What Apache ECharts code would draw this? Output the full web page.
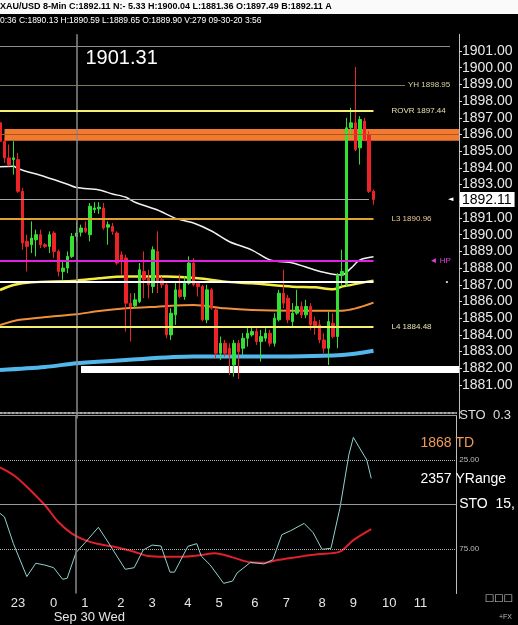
<!DOCTYPE html>
<html>
<head>
<meta charset="utf-8">
<script src="https://cdn.jsdelivr.net/npm/echarts@6/dist/echarts.min.js"></script>
<style>
html, body { margin: 0; padding: 0; background: #000; }
#chart { width: 518px; height: 625px; }
</style>
</head>
<body>
<div id="chart"></div>
<script>
// 8-min bars, first bar 22:28
const barStart = 22 * 60 + 28
const barMinutes = 8
const barCount = 103

// [open, close, low, high]
const candles = [
  [1896.7, 1895.6, 1895.4, 1896.9], [1895.6, 1894.6, 1894.3, 1895.8], [1894.6, 1894.2, 1894.1, 1895.4],
  [1894.5, 1894.6, 1893.6, 1895.6], [1894.5, 1892.6, 1892.5, 1894.9], [1892.6, 1889.5, 1889.1, 1892.8],
  [1889.6, 1889.3, 1887.8, 1890.0], [1889.4, 1889.8, 1888.9, 1890.8], [1889.7, 1890.0, 1888.7, 1890.3],
  [1890.0, 1889.4, 1889.2, 1890.3], [1889.4, 1889.3, 1889.2, 1889.5], [1889.3, 1890.0, 1888.9, 1890.2],
  [1890.1, 1889.0, 1888.6, 1890.2], [1889.0, 1887.8, 1887.5, 1889.1], [1887.8, 1888.0, 1887.3, 1888.4],
  [1888.0, 1888.7, 1887.7, 1889.0], [1888.7, 1889.9, 1888.6, 1890.1], [1889.9, 1890.1, 1889.6, 1890.8],
  [1890.15, 1890.4, 1889.9, 1890.6], [1890.4, 1890.2, 1890.1, 1890.8], [1890.0, 1891.7, 1889.6, 1891.9],
  [1891.5, 1891.6, 1891.3, 1891.95], [1891.55, 1891.65, 1891.25, 1891.95], [1891.6, 1890.4, 1890.3, 1891.9],
  [1890.45, 1890.6, 1889.4, 1890.8], [1890.5, 1890.2, 1890.0, 1890.7], [1890.1, 1888.3, 1888.2, 1890.2],
  [1888.8, 1888.5, 1887.6, 1889.0], [1888.6, 1885.9, 1884.2, 1888.8], [1885.9, 1885.7, 1883.6, 1886.5],
  [1885.75, 1886.1, 1885.6, 1886.5], [1886.0, 1887.9, 1885.9, 1888.3], [1887.8, 1887.3, 1886.2, 1889.0],
  [1887.4, 1887.0, 1886.2, 1887.9], [1886.9, 1889.1, 1886.5, 1889.3], [1889.0, 1887.2, 1886.5, 1890.2],
  [1887.3, 1887.0, 1886.8, 1887.5], [1887.0, 1884.0, 1883.8, 1887.2], [1884.0, 1885.3, 1883.7, 1885.6],
  [1885.2, 1886.7, 1884.6, 1887.1], [1886.7, 1886.3, 1886.2, 1887.6], [1886.3, 1887.1, 1886.1, 1887.5],
  [1887.1, 1888.3, 1887.0, 1888.7], [1888.3, 1887.0, 1886.9, 1888.6], [1887.1, 1886.9, 1886.3, 1887.2],
  [1886.9, 1884.9, 1884.8, 1887.0], [1884.9, 1886.7, 1884.7, 1887.0], [1886.7, 1885.6, 1885.5, 1886.8],
  [1885.5, 1882.9, 1882.6, 1885.6], [1882.9, 1883.5, 1882.5, 1883.9], [1883.5, 1882.9, 1882.7, 1883.7],
  [1883.2, 1882.8, 1881.6, 1883.5], [1882.2, 1883.5, 1881.5, 1883.7], [1883.5, 1883.0, 1881.36, 1883.7],
  [1883.2, 1883.8, 1882.8, 1884.1], [1883.8, 1884.1, 1883.3, 1884.4], [1884.0, 1884.2, 1883.9, 1884.5],
  [1884.2, 1883.6, 1883.4, 1884.4], [1883.6, 1883.9, 1882.4, 1884.3], [1883.8, 1884.1, 1883.6, 1884.4],
  [1884.1, 1883.5, 1883.3, 1884.3], [1883.5, 1885.0, 1883.3, 1885.3], [1884.9, 1886.5, 1884.8, 1886.7],
  [1886.5, 1885.9, 1885.6, 1887.9], [1886.2, 1884.9, 1884.7, 1886.4], [1884.8, 1885.3, 1884.5, 1885.9],
  [1885.3, 1885.7, 1885.2, 1886.7], [1885.7, 1885.2, 1885.0, 1886.0], [1885.2, 1885.7, 1885.0, 1886.1],
  [1885.7, 1884.6, 1884.3, 1885.9], [1884.8, 1884.5, 1884.0, 1885.1], [1884.6, 1883.7, 1883.5, 1884.9],
  [1883.7, 1883.2, 1882.9, 1884.1], [1883.2, 1884.8, 1882.2, 1885.4], [1884.7, 1883.9, 1883.8, 1885.3],
  [1883.9, 1887.6, 1883.2, 1887.7], [1887.6, 1887.8, 1886.9, 1889.1], [1887.0, 1896.4, 1886.9, 1897.0],
  [1896.4, 1896.7, 1895.8, 1897.6], [1896.7, 1895.1, 1895.0, 1900.04], [1895.2, 1896.9, 1894.2, 1897.1],
  [1896.8, 1895.7, 1895.6, 1897.0], [1896.0, 1892.6, 1892.5, 1896.2], [1892.6, 1892.11, 1891.8, 1892.7]
]

// moving averages, [bar, price]
const maWhite = [[0, 1894.07], [3, 1894.1], [4, 1893.95], [10, 1893.47], [15, 1893.02], [17, 1892.82], [22, 1892.68],
  [25, 1892.44], [28, 1892.24], [30, 1891.94], [35, 1891.48], [39, 1890.98], [43, 1890.7], [47, 1890.22], [51, 1889.58],
  [56, 1889.08], [60, 1888.49], [65, 1888.31], [70, 1887.89], [74, 1887.63], [76, 1887.59], [78, 1888.0], [80, 1888.49], [83, 1888.68]]
const maYellow = [[0, 1886.69], [3, 1886.99], [7, 1887.15], [17, 1887.25], [22, 1887.39], [28, 1887.49], [37, 1887.49],
  [44, 1887.39], [50, 1887.19], [56, 1887.09], [65, 1886.89], [70, 1886.85], [74, 1886.73], [76, 1886.89], [83, 1887.25]]
const maOrange = [[0, 1884.59], [4, 1884.89], [11, 1885.09], [17, 1885.23], [22, 1885.43], [28, 1885.59], [35, 1885.69],
  [43, 1885.79], [50, 1885.59], [56, 1885.49], [65, 1885.45], [70, 1885.45], [76, 1885.45], [83, 1885.93]]
const maBlue = [[0, 1881.9], [10, 1882.08], [17, 1882.3], [28, 1882.5], [43, 1882.7], [56, 1882.7], [76, 1882.8], [83, 1883.05]]

// stochastic, [bar, value]
const stoK = [[0, 55], [1, 57], [3, 72], [6, 90.5], [8, 83], [10, 84], [12, 85.5], [14, 92], [15, 91.5], [17, 77], [19, 71.5],
  [22, 62.8], [24, 70.5], [28, 86.4], [30, 85.5], [32, 75.6], [34, 72.8], [36, 73.3], [38, 88], [39, 88], [42, 73.5],
  [44, 72], [45, 79], [47, 84], [50, 94.3], [52, 93], [53, 88.5], [56, 82.5], [59, 83.4], [61, 81], [63, 67], [65, 64.7],
  [68, 60.6], [70, 65.8], [72, 75.2], [74, 74.6], [76, 52], [78, 22], [79, 12.3], [80, 16.6], [82, 25], [83, 35.3]]
const stoD = [[0, 29.1], [3, 33.4], [6, 40], [10, 50.3], [13, 59.7], [16, 66.2], [19, 70], [22, 72.2], [26, 74], [30, 76.5],
  [33, 78.9], [37, 79.3], [41, 79.3], [45, 78.4], [48, 77.4], [52, 79.7], [56, 82.5], [59, 82.7], [62, 81.2], [67, 79.3],
  [71, 78], [76, 76.5], [79, 70], [83, 63.8]]

const priceTicks = [1881, 1882, 1883, 1884, 1885, 1886, 1887, 1888, 1889, 1890, 1891,
  1892, 1893, 1894, 1895, 1896, 1897, 1898, 1899, 1900, 1901]
const stoTicks = [0, 25, 50, 75]

const lastClose = 1892.11
const dayHigh = 1901.31
const yHigh = 1898.95
const rovr = 1897.44
const zoneTop = 1896.33
const zoneMid = 1896.0
const zoneBottom = 1895.62
const l3 = 1890.96
const hp = 1888.43
const pivotWhite = 1887.17
const l4 = 1884.48
const floorTop = 1882.14
const floorBottom = 1881.72
const tdValue = 1868
const yRange = 2357

const categories = []
for (let i = 0; i < barCount; i++) {
  const m = (barStart + i * barMinutes) % 1440
  categories.push(String(Math.floor(m / 60)).padStart(2, '0') + ':' + String(m % 60).padStart(2, '0'))
}
const hourOf = i => parseInt(categories[i])
// the last label (12) is not drawn, it would sit on the price axis
const isHourStart = i => i > 0 && i < barCount - 2 && hourOf(i) !== hourOf(i - 1)

const font = 'Liberation Sans'
const small = { fontFamily: font, fontSize: 8 }

const hLine = (v, end, color, width, label) => [
  {
    coord: [0, v],
    lineStyle: { color: color, width: width, type: 'solid' },
    label: label || { show: false }
  },
  { coord: [end, v] }
]

const option = {
  backgroundColor: '#000',
  animation: false,
  title: [
    {
      text: 'XAU/USD 8-Min C:1892.11 N:- 5.33 H:1900.04 L:1881.36 O:1897.49 B:1892.11 A',
      left: 0, top: 2, padding: 0,
      textStyle: { color: '#000', fontSize: 9, fontWeight: 'bold', fontFamily: font }
    },
    {
      text: '0:36 C:1890.13 H:1890.59 L:1889.65 O:1889.90 V:279 09-30-20 3:56',
      left: 0, top: 16, padding: 0,
      textStyle: { color: '#fff', fontSize: 8.5, fontWeight: 'normal', fontFamily: font }
    }
  ],
  graphic: [
    { type: 'rect', left: 0, top: 0, z: -1, shape: { width: 518, height: 14 }, style: { fill: '#fafafa' } },
    { type: 'text', right: 6, bottom: 4, style: { text: '+FX', fill: '#bbb', font: '7px ' + font } },
    { type: 'text', right: 5, bottom: 22, style: { text: '□□□', fill: '#ccc', font: '10px DejaVu Sans' } }
  ],
  grid: [
    { left: 0, right: 59, top: 34.3, height: 384.1 },
    { left: 0, right: 59, top: 415.5, height: 178 }
  ],
  xAxis: [
    {
      gridIndex: 0, type: 'category', data: categories, boundaryGap: false,
      axisLine: { show: false }, axisTick: { show: false }, axisLabel: { show: false }, splitLine: { show: false }
    },
    {
      gridIndex: 1, type: 'category', data: categories, boundaryGap: false,
      axisLine: { lineStyle: { color: '#9a9a9a' } }, axisTick: { show: false },
      axisLabel: {
        interval: i => isHourStart(i),
        formatter: v => String(parseInt(v)),
        color: '#e6e6e6', fontSize: 13, fontFamily: font, margin: 3
      },
      splitLine: { show: false }
    },
    {
      gridIndex: 1, type: 'category', data: categories, boundaryGap: false, position: 'bottom', offset: 14,
      axisLine: { show: false }, axisTick: { show: false },
      axisLabel: {
        interval: i => isHourStart(i) && hourOf(i) === 0,
        formatter: () => 'Sep 30 Wed',
        align: 'left', color: '#e6e6e6', fontSize: 13, fontFamily: font, margin: 3
      }
    },
    {
      gridIndex: 1, type: 'category', data: categories, boundaryGap: false, position: 'top', offset: 3,
      axisLine: { lineStyle: { color: '#aaa', type: 'dotted', width: 2 } },
      axisTick: { show: false }, axisLabel: { show: false }
    }
  ],
  yAxis: [
    {
      gridIndex: 0, type: 'value', position: 'right', min: 1879, max: 1902,
      axisLine: { show: true, lineStyle: { color: '#bdbdbd' } },
      axisTick: { show: true, length: 3, customValues: priceTicks, lineStyle: { color: '#ddd' } },
      axisLabel: {
        customValues: priceTicks, formatter: v => v.toFixed(2),
        color: '#e8e8e8', fontSize: 14, fontFamily: font, margin: 3
      },
      splitLine: { show: false }
    },
    {
      gridIndex: 1, type: 'value', position: 'right', min: 0, max: 100, inverse: true,
      axisLine: { show: true, lineStyle: { color: '#bdbdbd' } },
      axisTick: { show: false },
      axisLabel: {
        customValues: stoTicks, margin: 3,
        formatter: v => v === 0 ? '{c|STO  0.3}' : v === 50 ? '{b|STO  15,}' : '{s|' + v.toFixed(2) + '}',
        rich: {
          s: { fontSize: 8, color: '#bbb', fontFamily: font },
          b: { fontSize: 14, color: '#fff', fontFamily: font },
          c: { fontSize: 13, color: '#ddd', fontFamily: font }
        }
      },
      splitLine: { show: false }
    }
  ],
  series: [
    {
      name: 'levels', type: 'line', xAxisIndex: 0, yAxisIndex: 0, data: [], z: 1,
      markArea: {
        silent: true,
        data: [
          [{ coord: [1, zoneTop], itemStyle: { color: '#f07b30' } }, { coord: [102, zoneBottom] }],
          [{ coord: [18, floorTop], itemStyle: { color: '#ffffff' } }, { coord: [102, floorBottom] }]
        ]
      },
      markLine: {
        silent: true, symbol: 'none',
        data: [
          { xAxis: 17, lineStyle: { color: '#8a8a8a', width: 1.5, type: 'solid' }, label: { show: false } },
          hLine(dayHigh, 100, '#8c8c8c', 1),
          hLine(yHigh, 90, '#7f7a5c', 1.2, { show: true, position: 'end', distance: 3, formatter: 'YH ' + yHigh.toFixed(2), color: '#d9d2a0', ...small }),
          hLine(rovr, 83, '#f4f070', 2, { show: true, position: 'end', distance: 18, formatter: 'ROVR ' + rovr.toFixed(2), color: '#e8e0b0', ...small }),
          hLine(zoneMid, 102, '#b5531a', 1),
          hLine(lastClose, 82, '#a8a8a8', 1, {
            show: true, position: 'end', distance: 79, formatter: '{a|◄}{t|' + lastClose.toFixed(2) + '}',
            rich: {
              a: { color: '#fff', fontSize: 7, width: 12, fontFamily: 'DejaVu Sans' },
              t: { color: '#000', backgroundColor: '#fff', fontSize: 14, fontFamily: font, padding: [1, 3, 0, 2] }
            }
          }),
          hLine(l3, 83, '#e0a42c', 2, { show: true, position: 'end', distance: 18, formatter: 'L3 ' + l3.toFixed(2), color: '#e8c890', ...small }),
          hLine(hp, 83, '#e021e0', 2, { show: true, position: 'end', distance: 56, formatter: '◄ HP', color: '#e040e0', ...small }),
          hLine(pivotWhite, 83, '#ffffff', 2, { show: true, position: 'end', distance: 72, formatter: '•', color: '#ddd', ...small }),
          hLine(l4, 83, '#f4f070', 2, { show: true, position: 'end', distance: 18, formatter: 'L4 ' + l4.toFixed(2), color: '#e8e0b0', ...small })
        ]
      },
      markPoint: {
        silent: true, symbolSize: 0,
        data: [{
          coord: [19, 1900.58],
          label: { show: true, position: 'right', distance: 0, formatter: dayHigh.toFixed(2), color: '#fff', fontSize: 20, fontFamily: font }
        }]
      }
    },
    {
      name: 'MA blue', type: 'line', data: maBlue, showSymbol: false, smooth: 0.3, z: 2,
      lineStyle: { color: '#52b8ec', width: 4 }
    },
    {
      name: 'MA orange', type: 'line', data: maOrange, showSymbol: false, smooth: 0.3, z: 2,
      lineStyle: { color: '#f0903a', width: 2 }
    },
    {
      name: 'MA yellow', type: 'line', data: maYellow, showSymbol: false, smooth: 0.3, z: 2,
      lineStyle: { color: '#f4ec40', width: 2.5 }
    },
    {
      name: 'MA white', type: 'line', data: maWhite, showSymbol: false, smooth: 0.3, z: 2,
      lineStyle: { color: '#f0f0f0', width: 1.5 }
    },
    {
      name: 'XAU/USD', type: 'candlestick', data: candles, barWidth: 3, z: 3,
      itemStyle: { color: '#35e035', color0: '#ec2428', borderColor: '#35e035', borderColor0: '#ec2428', borderWidth: 1 }
    },
    {
      name: 'STO D', type: 'line', xAxisIndex: 1, yAxisIndex: 1, data: stoD, showSymbol: false, smooth: 0.3,
      lineStyle: { color: '#e0202c', width: 2 }, z: 3
    },
    {
      name: 'STO K', type: 'line', xAxisIndex: 1, yAxisIndex: 1, data: stoK, showSymbol: false,
      lineStyle: { color: '#8fd3d0', width: 1 }, z: 4,
      markLine: {
        silent: true, symbol: 'none', label: { show: false },
        data: [
          { xAxis: 17, lineStyle: { color: '#8a8a8a', width: 1.5, type: 'solid' } },
          { yAxis: 25, lineStyle: { color: '#b0b0b0', width: 1, type: 'dotted' } },
          { yAxis: 50, lineStyle: { color: '#9a9a9a', width: 1, type: 'solid' } },
          { yAxis: 75, lineStyle: { color: '#b0b0b0', width: 1, type: 'dotted' } }
        ]
      },
      markPoint: {
        silent: true, symbolSize: 0,
        data: [
          { coord: [94, 15.5], label: { show: true, position: 'right', distance: 0, formatter: tdValue + ' TD', color: '#f09a5a', fontSize: 14, fontFamily: font } },
          { coord: [94, 35.5], label: { show: true, position: 'right', distance: 0, formatter: yRange + ' YRange', color: '#fff', fontSize: 14, fontFamily: font } }
        ]
      }
    }
  ]
}

const chart = echarts.init(document.getElementById('chart'))
chart.setOption(option)
</script>
</body>
</html>
